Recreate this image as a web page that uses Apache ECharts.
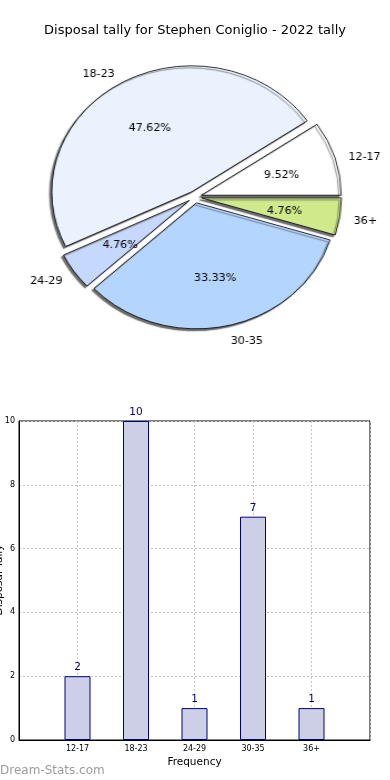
<!DOCTYPE html>
<html>
<head>
<meta charset="utf-8">
<script src="https://cdn.jsdelivr.net/npm/echarts@6/dist/echarts.min.js"></script>
<style>
html,body{margin:0;padding:0;background:#fff;}
#main{position:absolute;left:0;top:0;width:390px;height:780px;}
#pie{position:absolute;left:0;top:0;width:390px;height:370px;transform:scaleX(1.11);transform-origin:195px 197px;}
</style>
</head>
<body>
<div id="main"></div>
<div id="pie"></div>
<script>
const titleText = 'Disposal tally for Stephen Coniglio - 2022 tally';
const categories = ['12-17', '18-23', '24-29', '30-35', '36+'];
const tally = [2, 10, 1, 7, 1];
const sliceColors = ['#ffffff', '#ebf2fe', '#c6d8fd', '#b4d5fe', '#cfe98b'];
const yTicks = [0, 2, 4, 6, 8, 10];
const yName = 'Disposal Tally';
const xName = 'Frequency';
const watermark = 'Dream-Stats.com';

const FONT = 'DejaVu Sans';
const R = 126;
const total = tally.reduce((a, b) => a + b, 0);

// ---------- Pie ----------
const pieData = categories.map((c, i) => ({
  name: c, value: tally[i], selected: true,
  itemStyle: { color: sliceColors[i] },
  select: { itemStyle: { color: sliceColors[i], borderColor: '#000', borderWidth: 0.8 } }
}));
const pieLabelData = categories.map((c, i) => ({
  name: c, value: tally[i], selected: true
}));

const pie = echarts.init(document.getElementById('pie'), null, { renderer: 'canvas' });
pie.setOption({
  animation: false,
  series: [
    {
      type: 'pie',
      center: [195, 197],
      radius: [0, R],
      startAngle: 0,
      clockwise: false,
      selectedMode: 'multiple',
      selectedOffset: 6,
      avoidLabelOverlap: false,
      silent: true,
      itemStyle: {
        borderColor: '#000', borderWidth: 0.8,
        shadowColor: 'rgba(90,90,90,0.9)', shadowBlur: 1, shadowOffsetX: -2, shadowOffsetY: 2
      },
      label: {
        show: true, position: 'outside', formatter: '{b}',
        fontFamily: FONT, fontSize: 10, color: '#000',
        distanceToLabelLine: 0
      },
      labelLine: { show: false, length: 12.6, length2: 0 },
      labelLayout: function () { return { dy: 3 }; },
      emphasis: { disabled: true },
      data: pieData
    },
    {
      type: 'pie',
      center: [195, 197],
      radius: [0, R * 1.2 - 6],
      startAngle: 0,
      clockwise: false,
      selectedMode: 'multiple',
      selectedOffset: 6,
      avoidLabelOverlap: false,
      silent: true,
      itemStyle: { color: 'rgba(0,0,0,0)', borderWidth: 0 },
      label: {
        show: true, position: 'inner',
        formatter: function (p) { return (p.value / total * 100).toFixed(2) + '%'; },
        fontFamily: FONT, fontSize: 10, color: '#000'
      },
      labelLine: { show: false },
      labelLayout: function () { return { dy: 2 }; },
      emphasis: { disabled: true },
      select: { itemStyle: { color: 'rgba(0,0,0,0)', borderWidth: 0 } },
      data: pieLabelData
    }
  ]
});

// ---------- Bar ----------
const xCats = [''].concat(categories, ['']);
const barData = ['-'].concat(tally, ['-']);

const main = echarts.init(document.getElementById('main'), null, { renderer: 'canvas' });
main.setOption({
  animation: false,
  title: {
    text: titleText, left: 'center', top: 19,
    textStyle: { fontFamily: FONT, fontSize: 13, fontWeight: 'normal', color: '#000' }
  },
  grid: {
    left: 19, right: 20, top: 421, bottom: 40,
    outerBoundsMode: 'none', containLabel: false,
    show: true, borderColor: '#000', borderWidth: 1, backgroundColor: 'transparent'
  },
  xAxis: {
    type: 'category', data: xCats, boundaryGap: false,
    name: xName, nameLocation: 'middle', nameGap: 17,
    nameTextStyle: { fontFamily: FONT, fontSize: 10.5, color: '#000' },
    axisLine: { lineStyle: { color: '#000', width: 1 } },
    axisTick: { show: false },
    axisLabel: { fontFamily: FONT, fontSize: 8, color: '#000', margin: 5, interval: 0 },
    splitLine: { show: true, interval: 0, lineStyle: { type: [2, 2], color: '#c4c4c4', width: 1 } }
  },
  yAxis: {
    type: 'value', min: yTicks[0], max: yTicks[yTicks.length - 1], interval: 2,
    axisLine: { show: true, lineStyle: { color: '#000', width: 1 } },
    axisTick: { show: false },
    axisLabel: { fontFamily: FONT, fontSize: 8, color: '#000', margin: 4 },
    splitLine: { show: true, lineStyle: { type: [2, 2], color: '#c4c4c4', width: 1 } }
  },
  series: [{
    type: 'bar', data: barData, barWidth: 26,
    itemStyle: { color: '#cdcfe6', borderColor: '#000080', borderWidth: 1 },
    label: { show: true, position: 'top', distance: 3, color: '#000080', fontFamily: FONT, fontSize: 10.5 },
    z: 1
  }],
  graphic: [
    {
      type: 'text', left: 0, top: 765,
      style: { text: watermark, fill: '#9c9c9c', font: '12px "DejaVu Sans"' }
    },
    {
      type: 'text', x: 5, y: 580, rotation: Math.PI / 2,
      style: { text: yName, fill: '#000', font: '10.5px "DejaVu Sans"', align: 'center', verticalAlign: 'bottom' }
    }
  ]
});
</script>
</body>
</html>
